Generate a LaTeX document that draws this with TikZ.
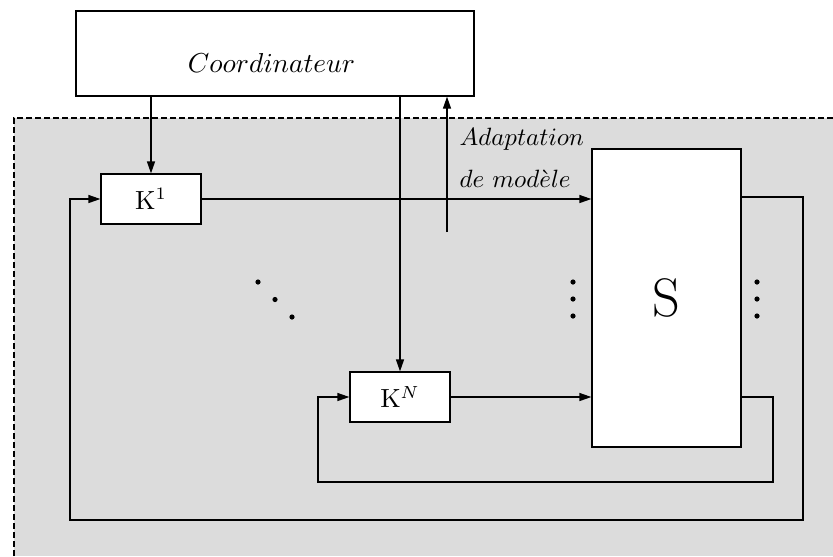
\documentclass[tikz,border=0pt]{standalone}
\usepackage{amsmath}
\usetikzlibrary{arrows.meta}
\definecolor{bggray}{RGB}{220,220,220}
\begin{document}
\begin{tikzpicture}[x=0.4pt,y=-0.4pt,
  blk/.style={draw, fill=white, line width=0.5pt, inner sep=0pt},
  kblk/.style={blk, minimum width=40pt, minimum height=20pt, font=\fontsize{10.5}{12}\selectfont},
  conn/.style={line width=0.5pt},
  arr/.style={conn,-{Triangle[length=4.8pt,width=3.2pt]}},
  dotf/.style={fill=black},
  lbl/.style={inner sep=0pt, anchor=base west, font=\fontsize{9.8}{11}\selectfont},
  ]
\useasboundingbox (0,0) rectangle (833,556);
\fill[bggray] (14,118) rectangle (833,556);
\draw[line width=0.8pt, dash pattern=on 2.4pt off 1.2pt] (14,556) -- (14,118) -- (833,118);

% blocks
\node[blk, minimum width=159.2pt, minimum height=34pt] (coord) at (275,53.5) {};
\node[inner sep=0pt, font=\fontsize{11.4}{13}\selectfont] (coordlbl) at (271.5,63) {$Coordinateur$};
\node[kblk] (k1) at (151,199) {K$^1$};
\node[kblk] (kN) at (400,397) {K$^N$};
\node[blk, minimum width=59.6pt, minimum height=119.2pt, font=\fontsize{21.7}{24}\selectfont] (s) at (666.5,298) {S};

% labels
\node[lbl] (ad1) at (459,145) {$Adaptation$};
\node[lbl] (ad2) at (459,187) {$de\ mod\grave{e}le$};

% connectors
\draw[arr] (coord.south -| k1) -- (k1.north);
\draw[arr] (coord.south -| kN) -- (kN.north);
\coordinate (adapt) at (447,232);
\draw[arr] (adapt) -- (adapt |- coord.south);
\draw[arr] (k1.east) -- (k1.east -| s.west);
\draw[arr] (kN.east) -- (kN.east -| s.west);
\draw[arr] (s.east |- 0,197) -- (803,197) -- (803,520) -- (70,520) |- (k1.west);
\draw[arr] (s.east |- kN) -- (773,397) -- (773,482) -- (318,482) |- (kN.west);

% dots
\foreach \y in {282,299,316} {
  \fill[dotf] (573,\y) circle (2.6);
  \fill[dotf] (757,\y) circle (2.6);
}
\fill[dotf] (258,282) circle (2.6);
\fill[dotf] (275,299.5) circle (2.6);
\fill[dotf] (292,317) circle (2.6);
\end{tikzpicture}
\end{document}
